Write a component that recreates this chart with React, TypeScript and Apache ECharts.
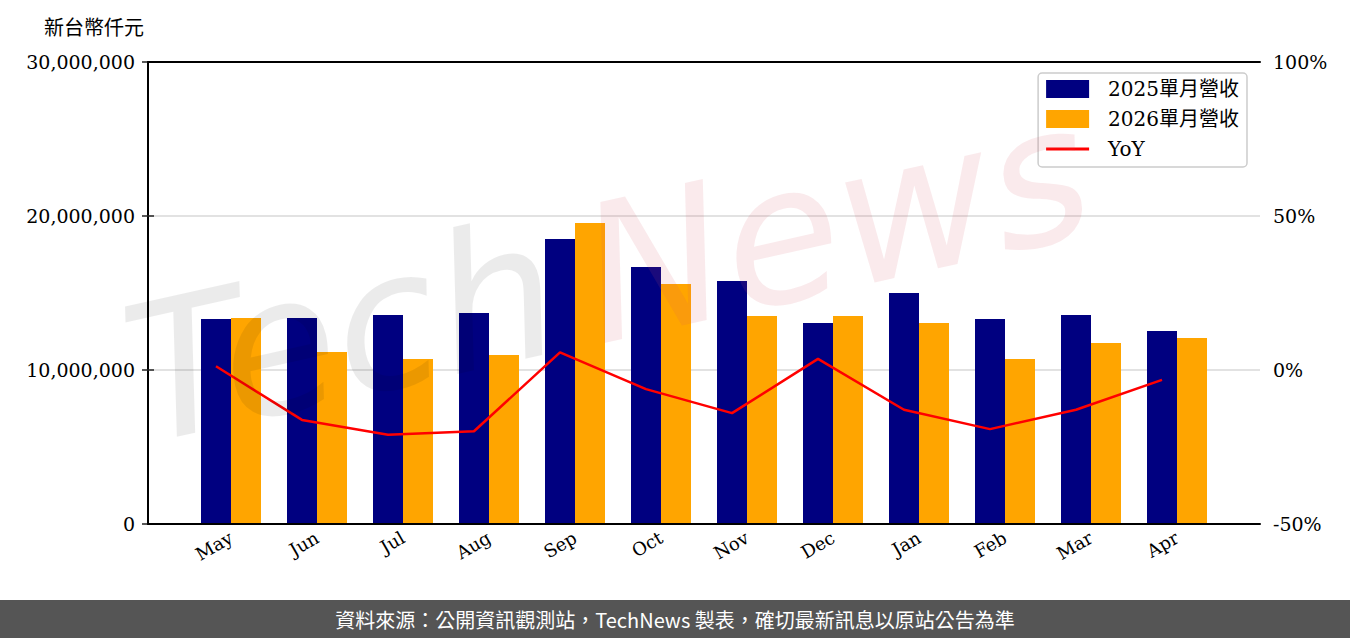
import React, { useEffect, useRef } from "react";
import * as echarts from "echarts";

const months = ["May", "Jun", "Jul", "Aug", "Sep", "Oct", "Nov", "Dec", "Jan", "Feb", "Mar", "Apr"];
const rev2025 = [13310000, 13380000, 13570000, 13700000, 18510000, 16690000, 15780000, 13050000, 15000000, 13310000, 13570000, 12530000];
const rev2026 = [13380000, 11170000, 10710000, 10970000, 19550000, 15580000, 13510000, 13510000, 13050000, 10710000, 11750000, 12080000];
const yoy = [1.2, -16.2, -21.0, -19.9, 5.7, -6.2, -14.0, 3.6, -12.9, -19.2, -12.9, -3.2];

const seriesNames = ["2025單月營收", "2026單月營收", "YoY"];
const unitTitle = "新台幣仟元";
const footerText = "資料來源：公開資訊觀測站，TechNews 製表，確切最新訊息以原站公告為準";

const serif = '"DejaVu Serif", "Noto Sans CJK TC", serif';

export default function App() {
  const ref = useRef<HTMLDivElement>(null);
  useEffect(() => {
    if (!ref.current) return;
    const chart = echarts.init(ref.current, null, { renderer: "svg" });
    const top = 62;
    const bottom = 114;
    const frameAxis = (position: string) => ({
      gridIndex: 0,
      type: "value",
      min: 0,
      max: 1,
      position,
      z: 5,
      axisLine: { show: true, onZero: false, lineStyle: { color: "#000", width: 2 } },
      axisTick: { show: false },
      axisLabel: { show: false },
      splitLine: { show: false },
    });
    chart.setOption({
      animation: false,
      backgroundColor: "#ffffff",
      grid: [
        { left: 148, right: 90, top, bottom },
        { left: 188, right: 130, top, bottom },
        { left: 173, right: 145, top, bottom },
      ],
      legend: {
        orient: "vertical",
        right: 103,
        top: 73,
        itemWidth: 43,
        itemHeight: 18,
        itemGap: 10,
        padding: [6, 8, 8, 8],
        borderColor: "#cccccc",
        borderWidth: 1.5,
        borderRadius: 4,
        icon: "rect",
        data: [
          { name: seriesNames[0] },
          { name: seriesNames[1] },
          { name: seriesNames[2], icon: "path://M0,0L43,0L43,3.2L0,3.2Z", itemStyle: { color: "#FF0000" } },
        ],
        textStyle: { fontFamily: serif, fontSize: 20, color: "#000", padding: [0, 0, 0, 14] },
      },
      xAxis: [
        frameAxis("bottom"),
        {
          gridIndex: 1,
          type: "category",
          data: months,
          axisLine: { show: false },
          axisTick: { alignWithLabel: true, length: 6, lineStyle: { color: "#222", width: 1.5 } },
          axisLabel: { rotate: 30, fontFamily: serif, fontSize: 18, color: "#000", margin: 12 },
        },
        { gridIndex: 2, type: "category", data: months, show: false },
        frameAxis("top"),
      ],
      yAxis: [
        {
          gridIndex: 0,
          type: "value",
          min: 0,
          max: 30000000,
          interval: 10000000,
          axisLine: { show: true, lineStyle: { color: "#000", width: 2 } },
          axisTick: { show: true, length: 6, lineStyle: { color: "#222", width: 1.5 } },
          splitLine: { show: true, lineStyle: { color: "#d9d9d9", width: 1.5 } },
          axisLabel: {
            fontFamily: serif,
            fontSize: 19,
            color: "#000",
            margin: 13,
            formatter: (v: number) => v.toLocaleString("en-US"),
          },
        },
        {
          gridIndex: 0,
          type: "value",
          min: -50,
          max: 100,
          interval: 50,
          position: "right",
          axisLine: { show: true, lineStyle: { color: "#000", width: 2 } },
          axisTick: { show: true, length: 6, lineStyle: { color: "#222", width: 1.5 } },
          splitLine: { show: false },
          axisLabel: { fontFamily: serif, fontSize: 19, color: "#000", margin: 13, formatter: "{value}%" },
        },
        { gridIndex: 1, type: "value", min: 0, max: 30000000, show: false },
        { gridIndex: 2, type: "value", min: -50, max: 100, show: false },
      ],
      series: [
        {
          name: seriesNames[0],
          type: "bar",
          xAxisIndex: 1,
          yAxisIndex: 2,
          data: rev2025,
          barWidth: 30,
          barGap: "0%",
          itemStyle: { color: "#000080" },
        },
        {
          name: seriesNames[1],
          type: "bar",
          xAxisIndex: 1,
          yAxisIndex: 2,
          data: rev2026,
          barWidth: 30,
          barGap: "0%",
          itemStyle: { color: "#FFA500" },
        },
        {
          name: seriesNames[2],
          type: "line",
          xAxisIndex: 2,
          yAxisIndex: 3,
          data: yoy,
          symbol: "none",
          lineStyle: { color: "#FF0000", width: 2.5 },
          itemStyle: { color: "#FF0000" },
          z: 5,
        },
      ],
      graphic: [
        {
          type: "text",
          left: 44,
          top: 16,
          style: { text: unitTitle, fontSize: 20, fontFamily: '"Noto Sans CJK TC", serif', fill: "#000" },
        },
        {
          type: "text",
          x: 130,
          y: 380,
          rotation: 0.22,
          style: {
            text: "Tech",
            fontSize: 190,
            fontStyle: "italic",
            fontFamily: '"DejaVu Sans", sans-serif',
            fill: "rgba(0,0,0,0.08)",
            verticalAlign: "middle",
          },
          z: 100,
          silent: true,
        },
        {
          type: "text",
          x: 585,
          y: 280,
          rotation: 0.22,
          style: {
            text: "News",
            fontSize: 190,
            fontStyle: "italic",
            fontFamily: '"DejaVu Sans", sans-serif',
            fill: "rgba(215,80,95,0.12)",
            verticalAlign: "middle",
          },
          z: 100,
          silent: true,
        },
        {
          type: "rect",
          shape: { x: 0, y: 600, width: 1350, height: 38 },
          style: { fill: "#555555" },
          z: 100,
        },
        {
          type: "text",
          x: 675,
          y: 619,
          style: {
            text: footerText,
            fontSize: 20,
            fontFamily: '"Noto Sans CJK TC", "Noto Sans", sans-serif',
            fill: "#ffffff",
            align: "center",
            verticalAlign: "middle",
          },
          z: 101,
        },
      ],
    });
    return () => chart.dispose();
  }, []);
  return <div ref={ref} style={{ position: "fixed", left: 0, top: 0, width: 1350, height: 638 }} />;
}
